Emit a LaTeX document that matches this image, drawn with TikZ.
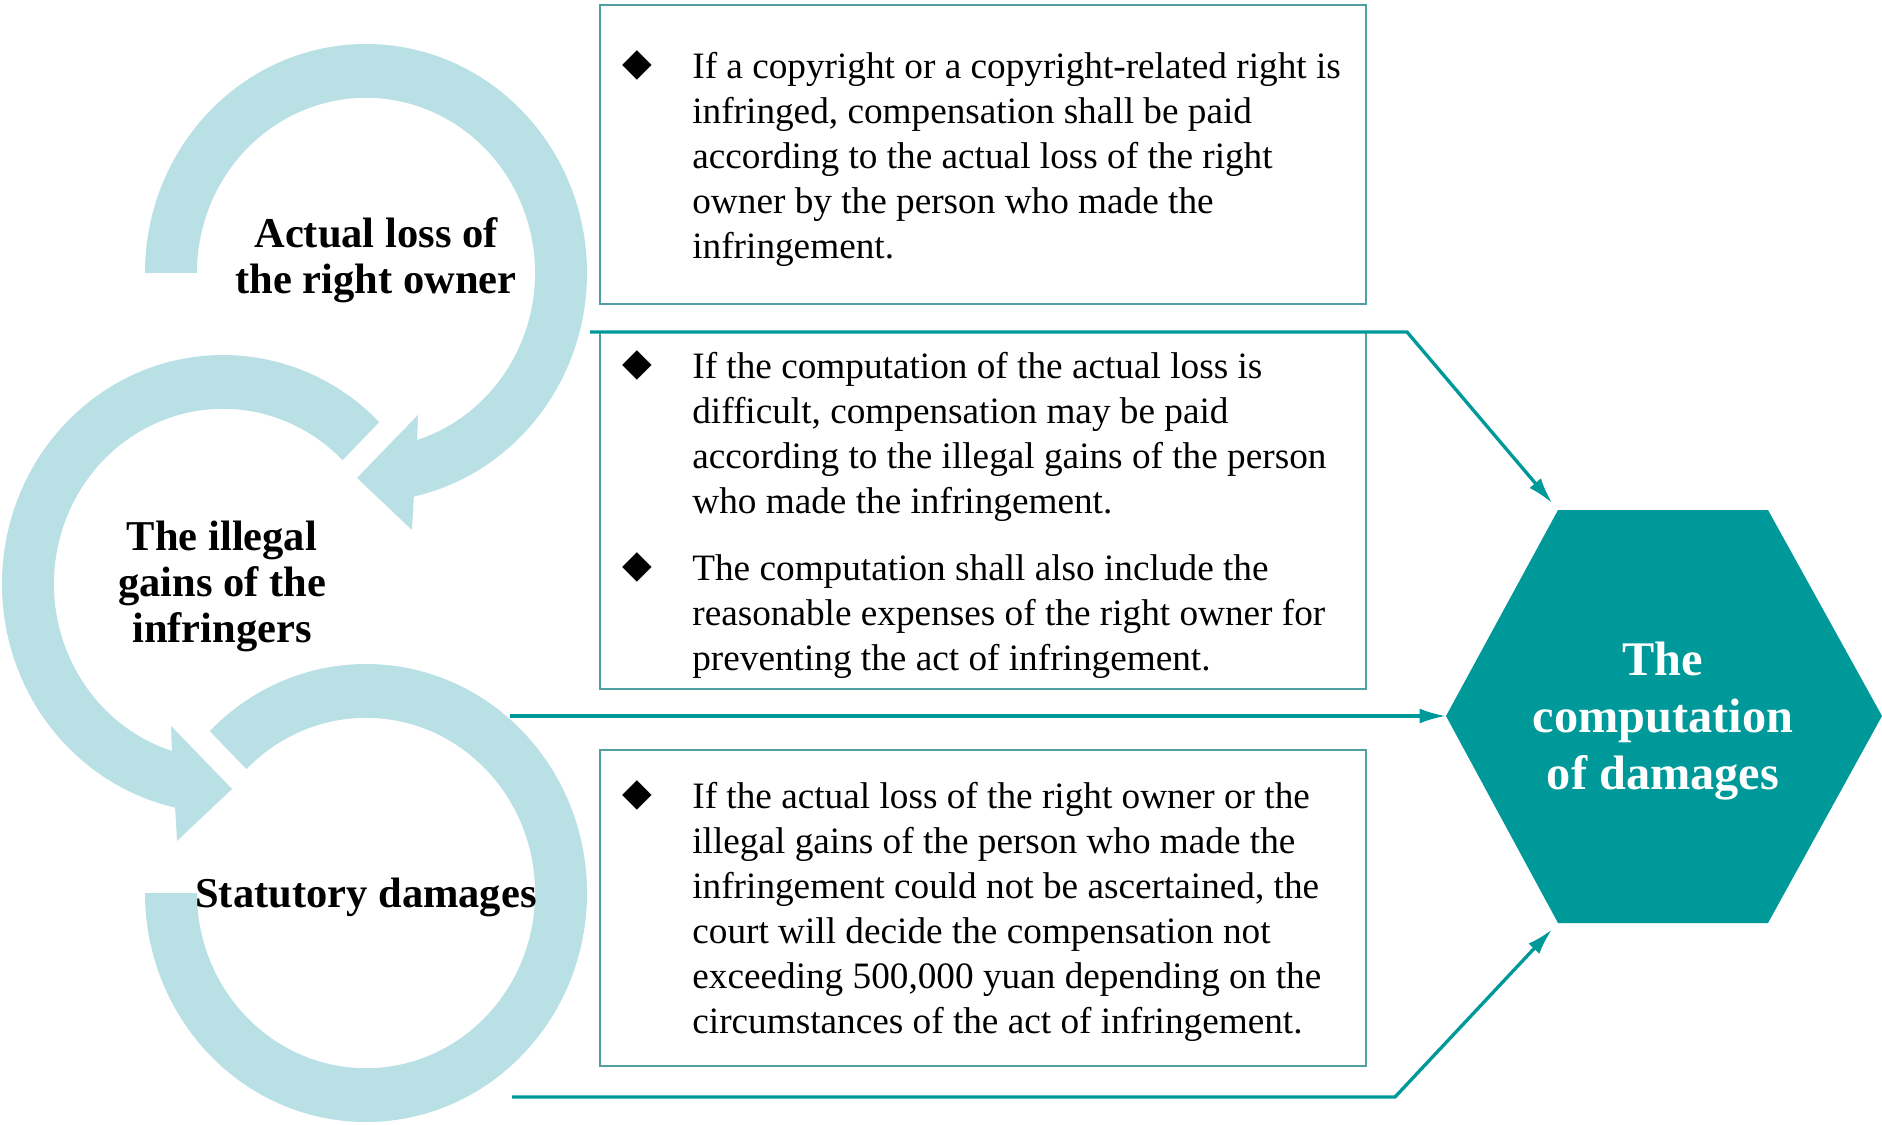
\documentclass[tikz,border=0pt]{standalone}
\usepackage{fontspec}
\setmainfont{Liberation Serif}
\newfontfamily\symfont{DejaVu Sans}
\usetikzlibrary{arrows.meta}

\definecolor{ringblue}{RGB}{185,224,228}
\definecolor{tealfill}{RGB}{0,153,153}
\definecolor{boxline}{RGB}{80,160,163}

\begin{document}
\begin{tikzpicture}[x=0.02cm,y=-0.02cm]
\tikzset{edge/.style = {-{Latex[length=15pt,width=8.5pt]}, draw=tealfill, line width=1.9pt}}
\tikzset{ring/.style = {fill=ringblue}}
\tikzset{infobox/.style = {draw=boxline, line width=1.1pt, minimum width=15.32cm, inner sep=0pt}}
% multi-line nodes: the base anchor sits on the last line
\tikzset{bodytext/.style = {anchor=base west, align=left, inner sep=0pt, font=\fontsize{21.2}{25.6}\selectfont}}
\tikzset{bullet/.style = {inner sep=0pt, font=\symfont\fontsize{22}{22}\selectfont}}
\tikzset{ringlabel/.style = {anchor=base, align=center, inner sep=0pt, font=\fontsize{24.2}{26}\selectfont\bfseries}}

\useasboundingbox (0,0) rectangle (1882,1125);

% the three rings
\begin{scope}[shift={(366,273)}, xscale=221, yscale=-229]
\fill[ring] (180:1) arc[start angle=180, end angle=-77.5, radius=1]
  -- (0.208,-1.122) -- (-0.041,-0.895) -- (0.235,-0.620)
  -- (-72.4:0.765) arc[start angle=-72.4, end angle=180, radius=0.765] -- cycle;
\end{scope}
\begin{scope}[shift={(223,584)}, xscale=221, yscale=-229]
\fill[ring] (45:1) arc[start angle=45, end angle=257.5, radius=1]
  -- (-0.208,-1.122) -- (0.041,-0.895) -- (-0.235,-0.620)
  -- (252.4:0.765) arc[start angle=252.4, end angle=45, radius=0.765] -- cycle;
\end{scope}
\begin{scope}[shift={(366,893)}, xscale=221, yscale=-229]
\fill[ring] (135:1) arc[start angle=135, end angle=-180, radius=1]
  -- (180:0.765) arc[start angle=-180, end angle=135, radius=0.765] -- cycle;
\end{scope}

\node[ringlabel] (loss) at (376,293) {Actual loss of\\the right owner};
\node[ringlabel] (gains) at (222,642) {The illegal\\gains of the\\infringers};
\node[ringlabel] (statutory) at (366,907) {Statutory damages};

% boxes with the rules
\node[infobox, minimum height=5.98cm] (box1) at (983,154.5) {};
\node[infobox, minimum height=7.14cm] (box2) at (983,510.5) {};
\node[infobox, minimum height=6.32cm] (box3) at (983,908) {};

\node[bullet] (dot1) at (637,65) {◆};
\node[bullet] (dot2) at (637,365) {◆};
\node[bullet] (dot3) at (637,567) {◆};
\node[bullet] (dot4) at (637,795) {◆};

\node[bodytext] (rule1) at (692,258) {If a copyright or a copyright-related right is\\infringed, compensation shall be paid\\according to the actual loss of the right\\owner by the person who made the\\infringement.};
\node[bodytext] (rule2) at (692,513) {If the computation of the actual loss is\\difficult, compensation may be paid\\according to the illegal gains of the person\\who made the infringement.};
\node[bodytext] (rule3) at (692,670) {The computation shall also include the\\reasonable expenses of the right owner for\\preventing the act of infringement.};
\node[bodytext] (rule4) at (692,1033) {If the actual loss of the right owner or the\\illegal gains of the person who made the\\infringement could not be ascertained, the\\court will decide the compensation not\\exceeding 500,000 yuan depending on the\\circumstances of the act of infringement.};

% hexagon
\coordinate (hw) at (1446,716);
\coordinate (hnw) at (1558,510);
\coordinate (hne) at (1768,510);
\coordinate (he) at (1882,716);
\coordinate (hse) at (1768,923);
\coordinate (hsw) at (1558,923);
\fill[tealfill] (hw) -- (hnw) -- (hne) -- (he) -- (hse) -- (hsw) -- cycle;
\node[anchor=base, align=center, inner sep=0pt, text=white, font=\fontsize{27.5}{32.4}\selectfont\bfseries] (damages) at (1663,789) {The\\computation\\of damages};

% connectors
\coordinate (a0) at (590,332);
\coordinate (a1) at (1407,332);
\coordinate (b0) at (510,716);
\coordinate (c0) at (512,1097);
\coordinate (c1) at (1395,1097);
\draw[edge, shorten >=5pt] (a0) -- (a1) -- (hnw);
\draw[edge] (b0) -- (hw);
\draw[edge, shorten >=5pt] (c0) -- (c1) -- (hsw);

\end{tikzpicture}
\end{document}
